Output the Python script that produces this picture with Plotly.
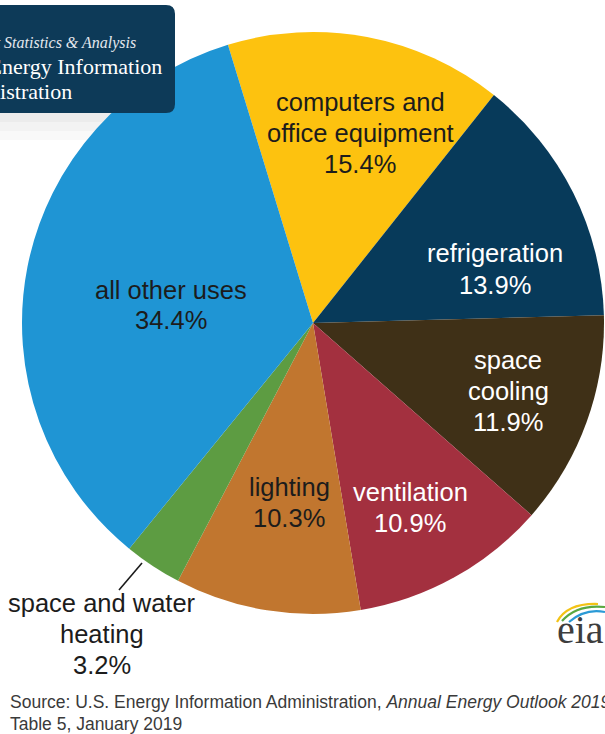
import plotly.graph_objects as go

W, H = 605, 734

categories = ["computers and<br>office equipment", "refrigeration", "space<br>cooling",
              "ventilation", "lighting", "space and water<br>heating", "all other uses"]
shares = [15.4, 13.9, 11.9, 10.9, 10.3, 3.2, 34.4]
colors = ["#fdc20f", "#073a5a", "#3f3017", "#a3303f", "#c1762f", "#5d9c42", "#1f95d4"]
text_colors = ["#1c1c1c", "#ffffff", "#ffffff", "#ffffff", "#1c1c1c", "#1c1c1c", "#1c1c1c"]
# label centre positions (pixels)
label_pos = [(360, 133), (495, 269), (508, 391), (410, 507), (289, 502), (102, 634), (171, 305)]
LINE_GAP = 31


def px(x):
    return x / W


def py(y):
    return 1 - y / H


cx, cy, r = 313, 323, 291

fig = go.Figure(go.Pie(
    labels=[c.replace("<br>", " ") for c in categories],
    values=shares,
    sort=False,
    direction="clockwise",
    rotation=-17,
    marker=dict(colors=colors, line=dict(width=0)),
    textinfo="none",
    hoverinfo="label+percent",
    showlegend=False,
    domain=dict(x=[px(cx - r), px(cx + r)], y=[py(cy + r), py(cy - r)]),
))

annotations = []
for cat, val, col, (lx, ly) in zip(categories, shares, text_colors, label_pos):
    lines = cat.split("<br>") + [f"{val}%"]
    n = len(lines)
    for i, line in enumerate(lines):
        yy = ly + (i - (n - 1) / 2) * LINE_GAP
        annotations.append(dict(
            x=px(lx), y=py(yy), xref="paper", yref="paper", showarrow=False,
            text=line, font=dict(family="Liberation Sans, Arial", size=25.5, color=col),
            xanchor="center", yanchor="middle", align="center",
        ))

# Source
src_font = dict(family="Liberation Sans, Arial", size=17.5, color="#3a3a3a")
annotations.append(dict(x=px(8), y=py(702), xref="paper", yref="paper", showarrow=False,
                        xanchor="left", yanchor="middle",
                        text="Source: U.S. Energy Information Administration, <i>Annual Energy Outlook 2019</i>,",
                        font=src_font))
annotations.append(dict(x=px(8), y=py(724), xref="paper", yref="paper", showarrow=False,
                        xanchor="left", yanchor="middle",
                        text="Table 5, January 2019", font=src_font))

# Title box texts
serif = "Liberation Serif, DejaVu Serif, serif"
annotations.append(dict(x=px(138), y=py(43), xref="paper", yref="paper", showarrow=False,
                        xanchor="right", yanchor="middle",
                        text="<i>Independent Statistics &amp; Analysis</i>",
                        font=dict(family=serif, size=16, color="#e4e8ee")))
annotations.append(dict(x=px(164), y=py(67), xref="paper", yref="paper", showarrow=False,
                        xanchor="right", yanchor="middle",
                        text="U.S. Energy Information",
                        font=dict(family=serif, size=22, color="#ffffff")))
annotations.append(dict(x=px(74), y=py(91), xref="paper", yref="paper", showarrow=False,
                        xanchor="right", yanchor="middle",
                        text="Administration",
                        font=dict(family=serif, size=22, color="#ffffff")))
# eia logo text
annotations.append(dict(x=px(580), y=py(629), xref="paper", yref="paper", showarrow=False,
                        xanchor="center", yanchor="middle", text="eia",
                        font=dict(family=serif, size=40, color="#3d3d3d")))

shapes = []
# faint reflection under the title box
for (ya, yb, fc) in [(113, 122, "#ececec"), (122, 131, "#f3f3f3"), (131, 140, "#f9f9f9")]:
    shapes.append(dict(type="rect", xref="paper", yref="paper", layer="below",
                       x0=px(0), x1=px(165), y0=py(ya), y1=py(yb),
                       fillcolor=fc, line=dict(width=0)))
# title box (rounded rectangle)
x0, x1, y0, y1, rr = -20, 175, 5, 113, 9
path = (f"M {px(x0)},{py(y0)} L {px(x1 - rr)},{py(y0)} "
        f"Q {px(x1)},{py(y0)} {px(x1)},{py(y0 + rr)} "
        f"L {px(x1)},{py(y1 - rr)} Q {px(x1)},{py(y1)} {px(x1 - rr)},{py(y1)} "
        f"L {px(x0)},{py(y1)} Z")
shapes.append(dict(type="path", path=path, xref="paper", yref="paper",
                   fillcolor="#0d3a58", line=dict(width=0), layer="above"))
# leader line for small slice
shapes.append(dict(type="line", xref="paper", yref="paper",
                   x0=px(119), y0=py(590), x1=px(142), y1=py(563),
                   line=dict(color="#1a1a1a", width=1.6)))
# eia logo arcs
for col, (a, b, c) in zip(["#f3c316", "#5aa840", "#2a9ad6"],
                          [((557, 622), (567, 603), (598, 604)),
                           ((562, 621), (577, 604), (605, 607)),
                           ((569, 622), (585, 608), (605, 612))]):
    shapes.append(dict(type="path", xref="paper", yref="paper",
                       path=f"M {px(a[0])},{py(a[1])} Q {px(b[0])},{py(b[1])} {px(c[0])},{py(c[1])}",
                       line=dict(color=col, width=2.2)))

fig.update_layout(
    width=W, height=H, margin=dict(l=0, r=0, t=0, b=0),
    paper_bgcolor="white", plot_bgcolor="white",
    annotations=annotations, shapes=shapes,
)

fig.write_html("out.html", config={"displayModeBar": False},
               post_script="document.body.style.margin='0';")
